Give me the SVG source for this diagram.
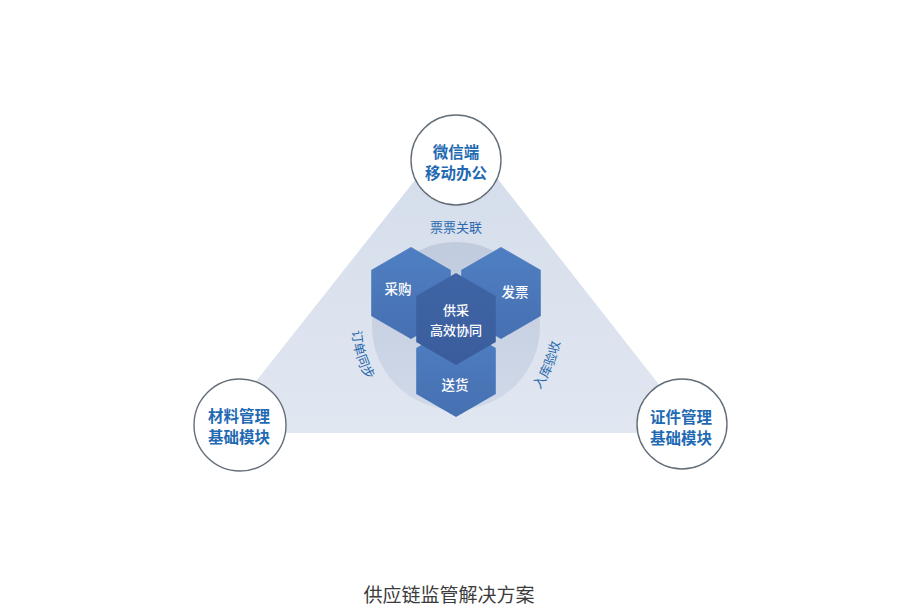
<svg xmlns="http://www.w3.org/2000/svg" width="900" height="606" viewBox="0 0 900 606">
  <defs>
    <linearGradient id="gTri" x1="0" y1="0" x2="0" y2="1">
      <stop offset="0" stop-color="#d3dcea"/>
      <stop offset="1" stop-color="#e1e7f1"/>
    </linearGradient>
    <linearGradient id="gDisc" x1="0" y1="0" x2="0" y2="1">
      <stop offset="0" stop-color="#c0cbde"/>
      <stop offset="1" stop-color="#d0d9e8"/>
    </linearGradient>
    <linearGradient id="gHex" x1="0" y1="0" x2="0" y2="1">
      <stop offset="0" stop-color="#4f7fc3"/>
      <stop offset="1" stop-color="#4670b1"/>
    </linearGradient>
    <linearGradient id="gCore" x1="0" y1="0" x2="0" y2="1">
      <stop offset="0" stop-color="#3f65a6"/>
      <stop offset="1" stop-color="#3a5c9c"/>
    </linearGradient>
    <path id="arcL" d="M357.1,293.9 A104,104 0 0 0 392.0,408.0"/>
    <path id="arcR" d="M511.6,415.0 A105,105 0 0 0 558.7,304.2"/>
  </defs>
  <style>
    .node circle { fill: #ffffff; stroke: #646e78; stroke-width: 1.4; }
    .ntext { font-family: "Noto Sans CJK SC", "Noto Sans", sans-serif; font-size: 15.5px; font-weight: 700; fill: #1f6ab3; text-anchor: middle; }
    .hex { fill: url(#gHex); }
    .core { fill: url(#gCore); }
    .htext { font-family: "Noto Sans CJK SC", "Noto Sans", sans-serif; font-size: 13.5px; font-weight: 500; fill: #ffffff; text-anchor: middle; }
    .ctext { font-family: "Noto Sans CJK SC", "Noto Sans", sans-serif; font-size: 13px; font-weight: 500; fill: #ffffff; text-anchor: middle; }
    .elabel { font-family: "Noto Sans CJK SC", "Noto Sans", sans-serif; font-size: 13px; fill: #2a69ad; text-anchor: middle; }
    .title { font-family: "Noto Sans CJK SC", "Noto Sans", sans-serif; font-size: 19px; fill: #3c3c3c; text-anchor: middle; }
  </style>
  <rect width="900" height="606" fill="#ffffff"/>

  <g id="connectors">
    <polygon points="457,127 215,433 697,433" fill="url(#gTri)"/>
    <text class="elabel" x="456" y="232">票票关联</text>
    <text class="elabel"><textPath href="#arcL" startOffset="50%">订单同步</textPath></text>
    <text class="elabel"><textPath href="#arcR" startOffset="50%">入库验收</textPath></text>
  </g>

  <g id="hub">
    <circle cx="456" cy="326" r="84" fill="url(#gDisc)"/>
  </g>

  <g id="node-caigou">
    <polygon class="hex" points="411,247 450.8,270 450.8,316 411,339 371.2,316 371.2,270"/>
    <text class="htext" x="398" y="294">采购</text>
  </g>
  <g id="node-fapiao">
    <polygon class="hex" points="501,247 540.8,270 540.8,316 501,339 461.2,316 461.2,270"/>
    <text class="htext" x="515" y="297">发票</text>
  </g>
  <g id="node-songhuo">
    <polygon class="hex" points="456,325 495.8,348 495.8,394 456,417 416.2,394 416.2,348"/>
    <text class="htext" x="455" y="390">送货</text>
  </g>
  <g id="node-core">
    <polygon class="core" points="456,273 495.8,296 495.8,342 456,365 416.2,342 416.2,296"/>
    <text class="ctext" x="456" y="315">供采</text>
    <text class="ctext" x="456" y="334.5">高效协同</text>
  </g>

  <g id="node-wechat" class="node">
    <circle cx="456" cy="160" r="45"/>
    <text class="ntext" x="456" y="158">微信端</text>
    <text class="ntext" x="456" y="179">移动办公</text>
  </g>
  <g id="node-material" class="node">
    <circle cx="240" cy="425" r="46"/>
    <text class="ntext" x="239" y="422">材料管理</text>
    <text class="ntext" x="239" y="443">基础模块</text>
  </g>
  <g id="node-cert" class="node">
    <circle cx="682" cy="424" r="45"/>
    <text class="ntext" x="681" y="423">证件管理</text>
    <text class="ntext" x="681" y="444">基础模块</text>
  </g>

  <text class="title" x="449" y="602">供应链监管解决方案</text>
</svg>
